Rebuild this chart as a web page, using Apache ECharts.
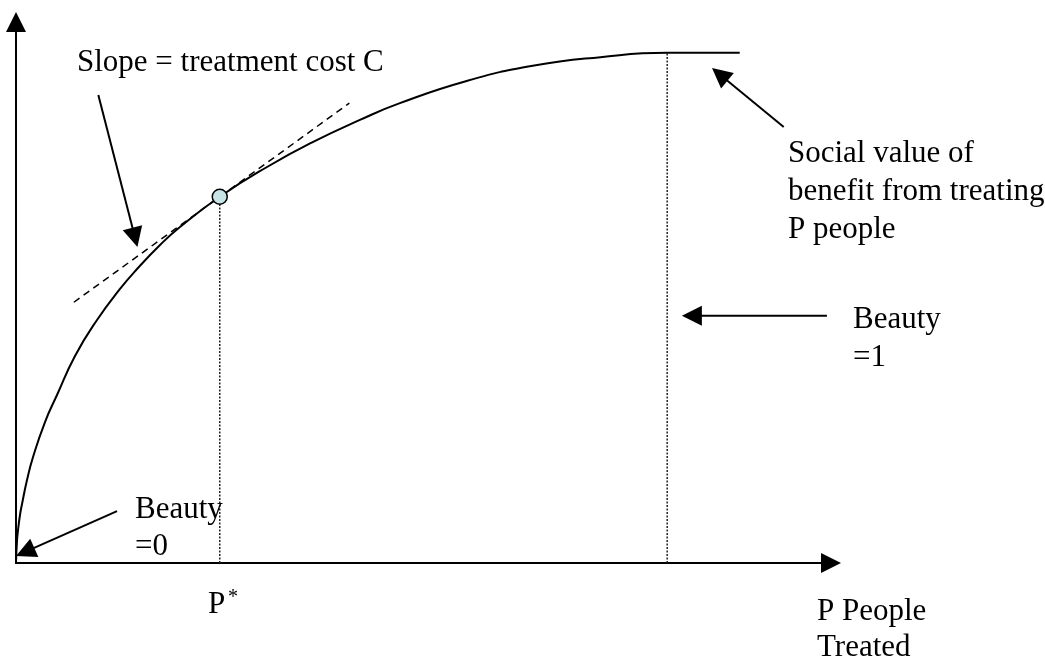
<!DOCTYPE html>
<html>
<head>
<meta charset="utf-8">
<script src="https://cdn.jsdelivr.net/npm/echarts@6/dist/echarts.min.js"></script>
<style>
html,body{margin:0;padding:0;background:#fff;}
#chart{width:1045px;height:662px;}
</style>
</head>
<body>
<div id="chart"></div>
<script>
// ---- Data (arbitrary units, 0..100 on both axes) ----
const curveX = [0, 0.12, 0.25, 0.49, 0.74, 1.35, 2.09, 3.56, 5.03, 7.24, 9.94, 12.76, 14.85, 17.67, 20.12, 25.0, 30.8, 36.4, 42.2, 47.1, 55.3, 63.4, 71.7, 79.9, 88.8];
const curveY = [0, 4.07, 6.10, 8.87, 10.91, 15.34, 19.59, 26.06, 31.05, 38.26, 44.92, 50.65, 54.34, 58.78, 62.11, 67.7, 73.2, 77.8, 81.9, 85.0, 89.1, 91.9, 93.5, 94.3, 94.3];
const pStar = [25.0, 67.7];          // optimum point P*
const saturation = [79.9, 94.3];     // point where curve flattens (Beauty = 1)
const tangentX = [7.1, 40.9];
const tangentY = [48.2, 85.0];
const arrowTails = [[10.1, 86.5], [94.2, 80.6], [99.5, 45.7], [12.4, 9.6]];
const arrowTips  = [[14.9, 58.4], [85.4, 91.5], [81.7, 45.7], [0.0, 1.3]];
const textSlope = 'Slope = treatment cost C';
const textSocial = ['Social value of', 'benefit from treating', 'P people'];
const textBeauty1 = ['Beauty', '=1'];
const textBeauty0 = ['Beauty', '=0'];
const textPStar = ['P', '*'];
const textXAxis = ['P People', 'Treated'];

// ---- Build ----
const curveData = curveX.map((x, i) => [x, curveY[i]]);
const tangentData = tangentX.map((x, i) => [x, tangentY[i]]);
const arrowData = arrowTails.map((t, i) => [t[0], t[1], arrowTips[i][0], arrowTips[i][1]]);

const FONT = '"Liberation Serif", "Times New Roman", Times, serif';
function txt(text, x, baseline, size) {
  return {
    type: 'text', x: x, y: baseline - 0.3375 * size, z: 100,
    style: { text: text, fontSize: size, fontFamily: FONT, fill: '#000', align: 'left', verticalAlign: 'middle' }
  };
}
const FS = 31;
const graphics = [
  txt(textSlope, 77, 73, FS),
  txt(textSocial[0], 788, 164, FS),
  txt(textSocial[1], 788, 202, FS),
  txt(textSocial[2], 788, 240, FS),
  txt(textBeauty1[0], 853, 330, FS),
  txt(textBeauty1[1], 853, 368, FS),
  txt(textBeauty0[0], 135, 520, FS),
  txt(textBeauty0[1], 135, 557, FS),
  txt(textPStar[0], 208, 615, FS),
  txt(textPStar[1], 228, 604, 20),
  txt(textXAxis[0], 817, 622, FS),
  txt(textXAxis[1], 817, 658, FS)
];

const axisCommon = {
  type: 'value', min: 0, max: 100,
  axisLine: { show: true, onZero: false, symbol: ['none', 'triangle'], symbolSize: [20, 20],
              lineStyle: { color: '#000', width: 2 } },
  axisTick: { show: false }, axisLabel: { show: false }, splitLine: { show: false }
};

const chart = echarts.init(document.getElementById('chart'), null, { renderer: 'canvas' });
chart.setOption({
  animation: false,
  backgroundColor: '#ffffff',
  grid: { left: 16, right: 214, top: 22, bottom: 99, outerBoundsMode: 'none' },
  xAxis: Object.assign({}, axisCommon),
  yAxis: Object.assign({}, axisCommon),
  series: [
    {
      type: 'line', data: [[pStar[0], 0], [pStar[0], pStar[1]]], showSymbol: false, silent: true, z: 2,
      lineStyle: { color: '#222', width: 1.5, type: [2, 1.5] }
    },
    {
      type: 'line', data: [[saturation[0], 0], [saturation[0], saturation[1]]], showSymbol: false, silent: true, z: 2,
      lineStyle: { color: '#222', width: 1.5, type: [2, 1.5] }
    },
    {
      type: 'line', data: tangentData, showSymbol: false, silent: true, z: 3,
      lineStyle: { color: '#000', width: 1.5, type: [7, 5] }
    },
    {
      type: 'line', data: curveData, showSymbol: false, smooth: 0.5, silent: true, z: 4,
      lineStyle: { color: '#000', width: 2 }
    },
    {
      type: 'scatter', data: [pStar], symbolSize: 15, z: 6, silent: true,
      itemStyle: { color: '#c6e4e6', borderColor: '#000', borderWidth: 1.5, opacity: 1 }
    },
    {
      type: 'custom', coordinateSystem: 'cartesian2d', data: arrowData, clip: false, silent: true, z: 7,
      encode: { x: [0, 2], y: [1, 3] },
      renderItem: function (params, api) {
        const p1 = api.coord([api.value(0), api.value(1)]);
        const p2 = api.coord([api.value(2), api.value(3)]);
        const dx = p2[0] - p1[0], dy = p2[1] - p1[1];
        const len = Math.sqrt(dx * dx + dy * dy);
        const ux = dx / len, uy = dy / len;
        const L = 20, W = 10;
        const bx = p2[0] - ux * L, by = p2[1] - uy * L;
        return {
          type: 'group',
          children: [
            { type: 'line', shape: { x1: p1[0], y1: p1[1], x2: bx + ux * 2, y2: by + uy * 2 },
              style: { stroke: '#000', lineWidth: 2 } },
            { type: 'polygon', shape: { points: [[p2[0], p2[1]], [bx - uy * W, by + ux * W], [bx + uy * W, by - ux * W]] },
              style: { fill: '#000' } }
          ]
        };
      }
    }
  ],
  graphic: graphics
});
</script>
</body>
</html>
